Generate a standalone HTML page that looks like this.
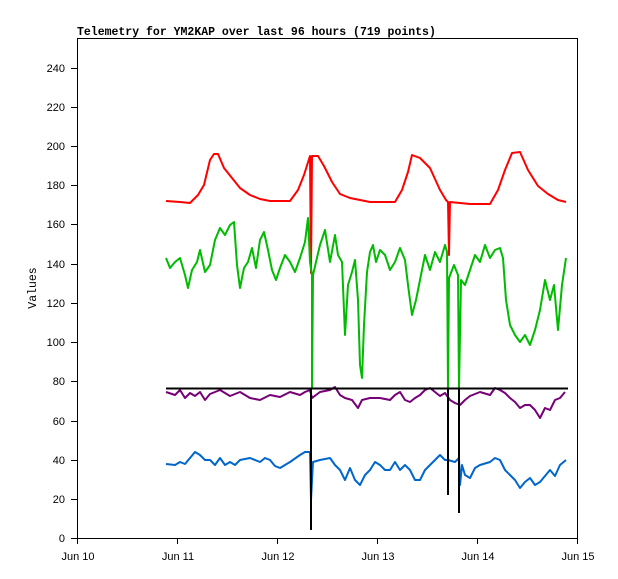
<!DOCTYPE html><html><head><style>body{margin:0;background:#fff}svg{display:block}</style></head><body>
<svg width="618" height="579" xmlns="http://www.w3.org/2000/svg" font-family="Liberation Sans, sans-serif" font-size="11">
<rect width="618" height="579" fill="#fff"/>
<text x="77" y="35" font-family="Liberation Mono, monospace" font-weight="bold" font-size="11.5">Telemetry for YM2KAP over last 96 hours (719 points)</text>
<rect x="77.5" y="38.5" width="500" height="500" fill="none" stroke="#000"/>
<g stroke="#000">
<line x1="71" y1="538.5" x2="77" y2="538.5"/><line x1="71" y1="499.5" x2="77" y2="499.5"/><line x1="71" y1="460.5" x2="77" y2="460.5"/><line x1="71" y1="421.5" x2="77" y2="421.5"/><line x1="71" y1="381.5" x2="77" y2="381.5"/><line x1="71" y1="342.5" x2="77" y2="342.5"/><line x1="71" y1="303.5" x2="77" y2="303.5"/><line x1="71" y1="264.5" x2="77" y2="264.5"/><line x1="71" y1="224.5" x2="77" y2="224.5"/><line x1="71" y1="185.5" x2="77" y2="185.5"/><line x1="71" y1="146.5" x2="77" y2="146.5"/><line x1="71" y1="107.5" x2="77" y2="107.5"/><line x1="71" y1="68.5" x2="77" y2="68.5"/>
<line x1="77.5" y1="538" x2="77.5" y2="544"/><line x1="177.5" y1="538" x2="177.5" y2="544"/><line x1="277.5" y1="538" x2="277.5" y2="544"/><line x1="377.5" y1="538" x2="377.5" y2="544"/><line x1="477.5" y1="538" x2="477.5" y2="544"/><line x1="577.5" y1="538" x2="577.5" y2="544"/>
</g>
<g text-anchor="end">
<text x="65" y="542">0</text><text x="65" y="503">20</text><text x="65" y="464">40</text><text x="65" y="425">60</text><text x="65" y="385">80</text><text x="65" y="346">100</text><text x="65" y="307">120</text><text x="65" y="268">140</text><text x="65" y="228">160</text><text x="65" y="189">180</text><text x="65" y="150">200</text><text x="65" y="111">220</text><text x="65" y="72">240</text>
</g>
<g text-anchor="middle">
<text x="78" y="560">Jun 10</text><text x="178" y="560">Jun 11</text><text x="278" y="560">Jun 12</text><text x="378" y="560">Jun 13</text><text x="478" y="560">Jun 14</text><text x="578" y="560">Jun 15</text>
</g>
<text transform="translate(36,288) rotate(-90)" text-anchor="middle" font-family="Liberation Mono, monospace" font-size="11.5">Values</text>
<g fill="none" stroke-width="2" stroke-linejoin="round">
<polyline stroke="#ff0000" points="166,201 180,202 190,203 198,195 204,185 210,160 214,154 218,154 224,168 232,178 240,188 250,195 260,199 270,201 290,201 298,190 304,175 310,156 311,273 312,156 318,156 324,166 332,182 340,194 350,198 370,202 395,202 402,190 408,172 412,155 420,158 430,168 440,190 446,200 448,202 449,255 450,202 470,204 490,204 498,190 505,170 512,153 520,152 528,170 538,186 548,194 558,200 566,202"/>
<polyline stroke="#00bb00" points="166,258 170,268 175,262 180,258 185,275 188,288 192,270 197,262 200,250 205,272 210,265 215,240 220,228 225,235 230,225 234,222 237,265 240,288 244,268 248,262 252,248 256,268 260,240 264,232 268,250 272,270 276,280 280,268 285,255 290,262 295,272 300,258 305,242 308,218 310,262 312,275 312,388 313,275 316,262 320,245 325,230 330,262 335,235 338,255 342,262 345,335 348,285 352,272 355,260 358,300 360,365 362,378 364,325 367,272 370,252 373,245 376,262 380,250 385,255 390,270 395,262 400,248 405,260 408,285 412,315 416,300 420,280 425,255 430,270 435,252 440,262 445,245 447,252 448,388 449,278 454,265 458,275 459,388 461,280 465,285 470,270 475,255 480,262 485,245 490,258 495,250 500,248 503,258 506,300 510,325 515,335 520,342 525,335 530,345 535,330 540,310 545,280 550,300 554,285 558,330 562,285 566,258"/>
<polyline stroke="#770077" points="166,392 175,395 180,390 185,398 190,393 195,396 200,392 205,400 210,394 220,390 230,396 240,392 250,398 260,400 270,395 280,397 290,392 300,395 305,392 310,390 312,398 320,392 330,390 335,387 340,395 345,398 352,400 358,408 362,400 370,398 380,398 390,400 395,395 400,392 405,400 410,402 415,398 420,395 425,390 430,388 435,392 440,396 445,393 450,400 455,403 460,405 465,400 470,396 480,392 490,395 495,388 500,390 505,393 510,398 515,402 520,408 525,405 530,405 535,410 540,418 545,408 550,410 555,400 560,398 565,392"/>
<polyline stroke="#0066cc" points="166,464 175,465 180,462 185,464 190,458 195,452 200,455 205,460 210,460 215,465 220,458 225,465 230,462 235,465 240,460 250,458 260,462 265,458 270,460 275,466 280,468 285,465 290,462 300,455 305,452 310,452 311,500 313,462 320,460 330,458 335,465 340,470 345,480 350,468 355,480 360,485 365,475 370,470 375,462 380,465 385,470 390,470 395,462 400,470 405,465 410,470 415,480 420,480 425,470 430,465 435,460 440,455 445,460 448,460 455,462 459,458 460,485 462,465 465,475 470,478 475,468 480,465 490,462 495,458 500,460 505,470 510,475 515,480 520,488 525,482 530,478 535,485 540,482 545,476 550,470 555,476 560,465 566,460"/>
</g>
<g stroke="#000" stroke-width="2">
<line x1="166" y1="388.5" x2="568" y2="388.5"/>
<line x1="311" y1="388" x2="311" y2="530"/>
<line x1="448" y1="388" x2="448" y2="495"/>
<line x1="459" y1="388" x2="459" y2="513"/>
</g>
</svg>
</body></html>
